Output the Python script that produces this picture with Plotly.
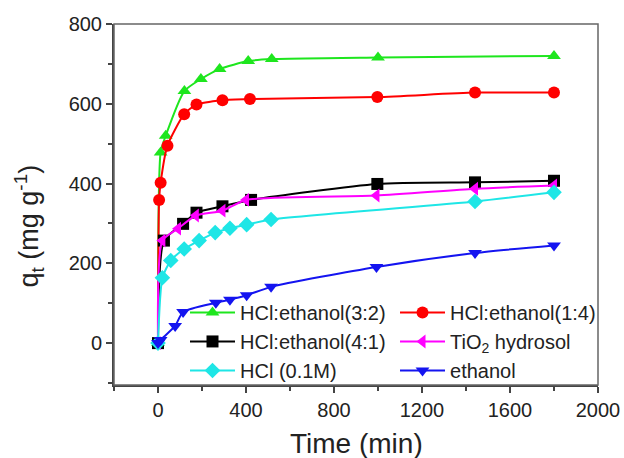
import plotly.graph_objects as go

# --- data ---
names = ["HCl:ethanol(3:2)", "HCl:ethanol(1:4)", "HCl:ethanol(4:1)",
         "TiO<sub>2</sub> hydrosol", "HCl (0.1M)", "ethanol"]

t_32 = [0, 12, 35, 120, 195, 280, 410, 517, 1000, 1800]
q_32 = [0, 478, 520, 632, 662, 687, 707, 712, 716, 720]

t_14 = [0, 5, 12, 43, 119, 175, 293, 418, 997, 1441, 1800]
q_14 = [0, 359, 402, 495, 574, 598, 609, 612, 617, 628, 628]

t_41 = [0, 27, 114, 175, 293, 423, 997, 1441, 1800]
q_41 = [0, 257, 299, 327, 343, 359, 399, 403, 407]

t_ti = [0, 20, 91, 172, 293, 400, 993, 1441, 1800]
q_ti = [0, 257, 287, 320, 332, 359, 370, 387, 395]

t_hcl = [0, 20, 58, 119, 187, 260, 327, 403, 514, 1441, 1800]
q_hcl = [0, 164, 207, 236, 257, 277, 288, 297, 310, 355, 378]

t_eth = [0, 12, 78, 114, 263, 327, 403, 514, 993, 1441, 1800]
q_eth = [0, 8, 43, 78, 101, 109, 120, 141, 191, 226, 245]

x_ticks = [0, 400, 800, 1200, 1600, 2000]
y_ticks = [0, 200, 400, 600, 800]

series = [
    (t_32, q_32, "#1ee61e", "triangle-up", "legend"),
    (t_14, q_14, "#ff0000", "circle", "legend2"),
    (t_41, q_41, "#000000", "square", "legend"),
    (t_ti, q_ti, "#ff00ff", "triangle-left", "legend2"),
    (t_hcl, q_hcl, "#1ee6e6", "diamond", "legend"),
    (t_eth, q_eth, "#1414f0", "triangle-down", "legend2"),
]

FONT = "Arial, Liberation Sans, sans-serif"
TXT = "#222222"

fig = go.Figure()
for name, (tx, qy, col, sym, lg) in zip(names, series):
    fig.add_trace(go.Scatter(
        x=tx, y=qy, name=name, mode="lines+markers", legend=lg,
        line=dict(color=col, width=2, shape="spline", smoothing=0.6),
        marker=dict(color=col, symbol=sym, size=12, line=dict(width=0)),
    ))

axis_common = dict(
    showline=True, linecolor="#444444", linewidth=2, mirror=False,
    ticks="outside", ticklen=6, tickwidth=1.5, tickcolor="#444444",
    showgrid=False, zeroline=False,
    tickfont=dict(family=FONT, size=20, color=TXT),
    minor=dict(ticks="outside", ticklen=4, tickwidth=1.5, tickcolor="#444444", showgrid=False),
)

fig.update_xaxes(range=[-200, 2000], tickvals=x_ticks, minor_dtick=200, **axis_common)
fig.update_yaxes(range=[-105, 800], tickvals=y_ticks, minor_dtick=100, **axis_common)

# frame top/right
fig.add_shape(type="rect", xref="paper", yref="paper", x0=0, y0=0, x1=1, y1=1,
              line=dict(color="#666666", width=1.5), layer="above")

legend_common = dict(
    orientation="v", xanchor="left", yanchor="top", itemwidth=45,
    bgcolor="rgba(0,0,0,0)", font=dict(family=FONT, size=20, color=TXT),
    tracegroupgap=0, borderwidth=0,
)

fig.update_layout(
    width=624, height=458,
    margin=dict(l=114, r=26, t=24, b=73, autoexpand=False),
    paper_bgcolor="white", plot_bgcolor="white",
    font=dict(family=FONT, color=TXT),
    showlegend=True,
    legend=dict(x=0.1467, y=0.255, **legend_common),
    legend2=dict(x=0.5806, y=0.255, **legend_common),
    annotations=[
        dict(text="Time (min)", xref="paper", yref="paper", x=0.5, y=-0.163,
             xanchor="center", yanchor="middle", showarrow=False,
             font=dict(family=FONT, size=28, color=TXT)),
        dict(text="q<sub>t</sub> (mg g<sup>-1</sup>)", xref="paper", yref="paper",
             x=-0.175, y=0.44, xanchor="center", yanchor="middle", textangle=-90,
             showarrow=False, font=dict(family=FONT, size=27, color=TXT)),
    ],
)

fig.write_html("out.html", config={"displayModeBar": False},
               post_script="document.body.style.margin='0';")
